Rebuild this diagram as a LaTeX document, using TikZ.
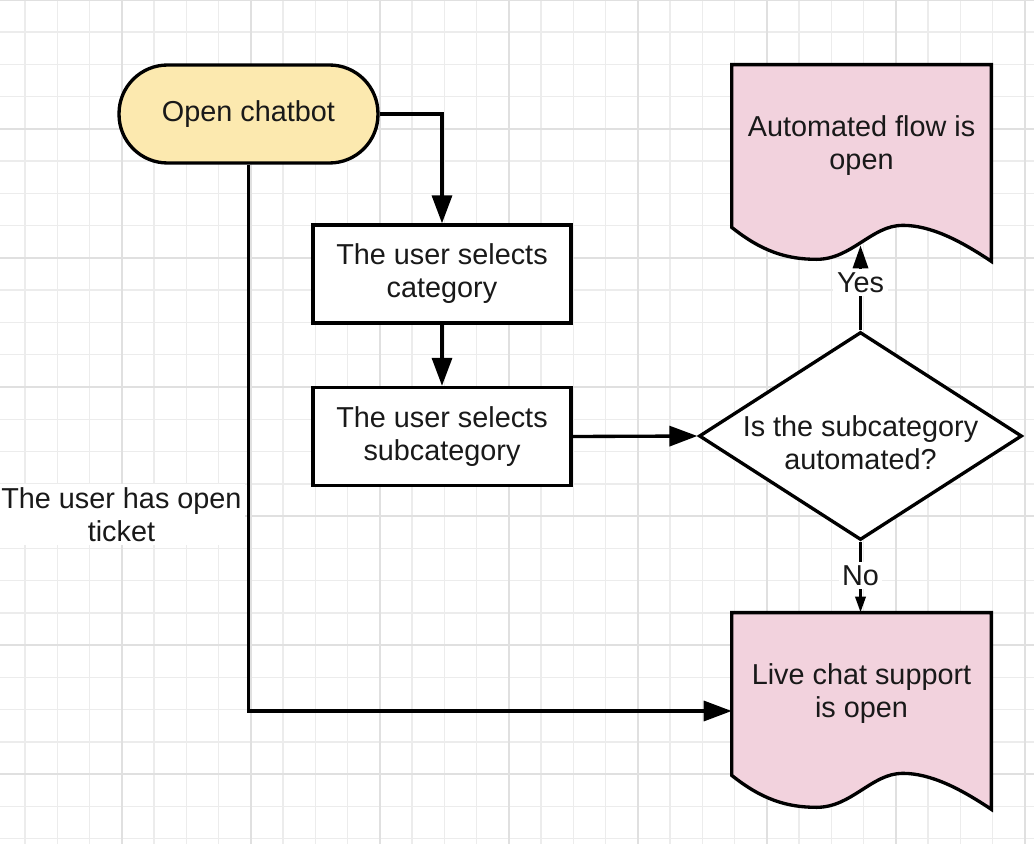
\documentclass[tikz,border=0pt]{standalone}
\usepackage{fontspec}
\setmainfont{Liberation Sans}
\usetikzlibrary{shapes.geometric,arrows.meta,calc,backgrounds}

\definecolor{termfill}{RGB}{252,233,175}
\definecolor{docfill}{RGB}{242,210,221}
\definecolor{gridminor}{RGB}{236,236,236}
\definecolor{gridmajor}{RGB}{224,224,224}
\definecolor{inkcol}{RGB}{25,25,25}

\tikzset{
  every node/.style={font=\fontsize{16.4}{18.8}\selectfont, text=inkcol},
  terminal/.style={draw, line width=1.9pt, fill=termfill, rounded corners=0.97cm,
    minimum width=5.18cm, minimum height=1.96cm},
  process/.style={draw, line width=1.9pt, fill=white, align=center,
    minimum width=5.16cm, minimum height=1.96cm},
  decision/.style={diamond, draw, line width=1.9pt, fill=white,
    inner sep=0pt, shape aspect=1.553, minimum width=6.46cm, minimum height=4.16cm},
  docbox/.style={align=center, minimum width=5.18cm, minimum height=3.24cm},
  docbody/.style={draw, line width=1.9pt, fill=docfill},
  flow/.style={line width=1.9pt, -{Triangle[length=0.56cm, width=0.4cm]}},
  yesflow/.style={line width=1.9pt, -{Triangle[length=0.46cm, width=0.3cm]}},
  noflow/.style={line width=1.9pt, -{Triangle[length=0.32cm, width=0.2cm]}},
  lbl/.style={fill=white, inner sep=2pt},
  gridline/.style={line width=0.03cm, gridminor},
  gridbold/.style={line width=0.03cm, gridmajor}
}

% document outline under a docbox node (wavy bottom)
\newcommand\docshape[1]{%
  \filldraw[docbody] (#1.north west) -- (#1.north east) -- ($(#1.south east)+(0,34)$)
    .. controls ($(#1.south east)+(-30,14)$) and ($(#1.south east)+(-60,-2)$) .. ($(#1.south west)+(171,-2)$)
    .. controls ($(#1.south west)+(140,-2)$) and ($(#1.south west)+(120,32)$) .. ($(#1.south west)+(85,32)$)
    .. controls ($(#1.south west)+(55,32)$) and ($(#1.south west)+(30,24)$) .. (#1.south west) -- cycle;}
% two centred lines, set a little lower than the box centre
\newcommand\lowlines[2]{\raisebox{-6.5pt}[19pt][11pt]{\begin{tabular}{@{}c@{}}#1\\#2\end{tabular}}}

\begin{document}
\begin{tikzpicture}[x=0.02cm, y=-0.02cm]
\useasboundingbox (0,0) rectangle (1034,844);

\node[terminal] (start) at (248.5,114) {Open chatbot};
\node[process] (cat) at (442,274) {The user selects\\category};
\node[process] (sub) at (442,436.5) {The user selects\\subcategory};
\node[decision] (dec) at (860.5,436) {\lowlines{Is the subcategory}{automated?}};
\node[docbox] (auto) at (861.5,146) {Automated flow is\\open};
\node[docbox] (live) at (861.5,694) {Live chat support\\is open};

\begin{scope}[on background layer]
\fill[white] (0,0) rectangle (1034,844);
\foreach \k in {0,...,31} \draw[gridline] ({25+32.25*\k},0) -- ({25+32.25*\k},844);
\foreach \k in {0,...,26} \draw[gridline] (0,{32.25*\k}) -- (1034,{32.25*\k});
\foreach \k in {3,7,...,31} \draw[gridbold] ({25+32.25*\k},0) -- ({25+32.25*\k},844);
\foreach \k in {0,4,...,24} \draw[gridbold] (0,{32.25*\k}) -- (1034,{32.25*\k});
\docshape{auto}
\docshape{live}
\end{scope}

\coordinate (autotip) at ($(dec.north |- auto.south)+(0,18)$);
\coordinate (livein) at ($(live.west)+(0,17)$);

\draw[flow] (start.east) -| (cat.north);
\draw[flow] (cat) -- (sub);
\draw[flow] (sub.east) -- (dec.west);
\draw[yesflow] (dec.north) -- node[lbl, pos=0.56] {Yes} (autotip);
\draw[noflow] (dec.south) -- node[lbl, pos=0.48] {No} (dec.south |- live.north);
\draw[flow] (start.south) |- node[lbl, pos=0.32, left=1pt, align=center] {The user has open\\ticket} (livein);
\end{tikzpicture}
\end{document}
